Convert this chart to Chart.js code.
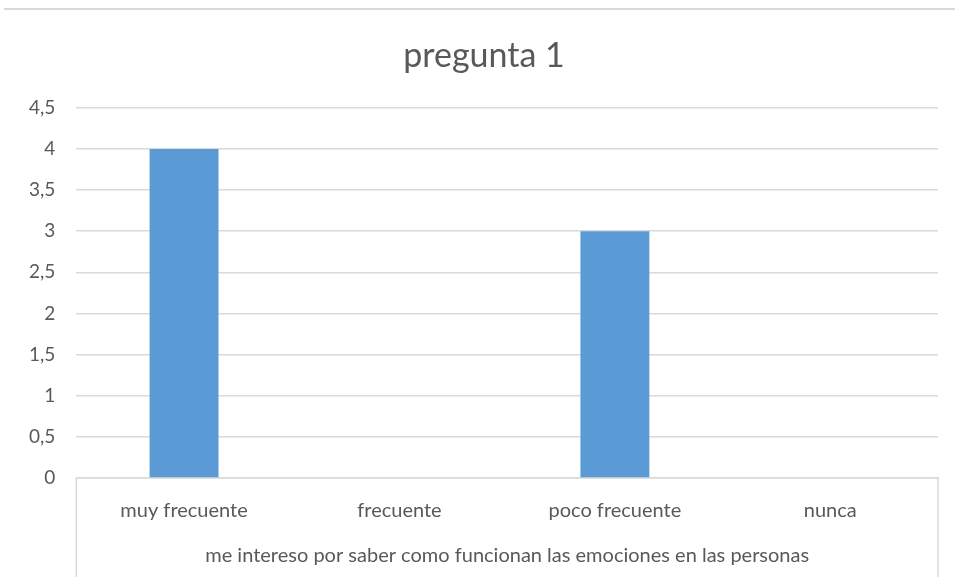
<!DOCTYPE html>
<html>
<head>
<meta charset="utf-8">
<script src="https://cdn.jsdelivr.net/npm/chart.js@4"></script>
<style>
  html, body { margin: 0; padding: 0; background: #fff; }
  #wrap { position: relative; width: 955px; height: 577px; }
  #topline { position: absolute; left: 4px; right: 0; top: 8px; height: 0; border-top: 2px solid #d9d9d9; }
  canvas { display: block; }
</style>
</head>
<body>
<div id="wrap">
  <div id="topline"></div>
  <canvas id="c" width="955" height="577"></canvas>
</div>
<script>
const categories = ['muy frecuente', 'frecuente', 'poco frecuente', 'nunca'];
const values = [4, 0, 3, 0];
const groupLabel = 'me intereso por saber como funcionan las emociones en las personas';
const chartTitle = 'pregunta 1';

const textColor = '#595959';
const gridColor = '#d9d9d9';
const fontFamily = 'Lato, "Open Sans", sans-serif';
const titleOffsetX = 11;

// Vertical edges of the category box below the axis line,
// plus a small horizontal nudge of the title
const categoryBox = {
  id: 'categoryBox',
  afterLayout(chart) {
    const t = chart.titleBlock;
    if (t) {
      t.left += titleOffsetX;
      t.right += titleOffsetX;
    }
  },
  afterDraw(chart) {
    const { ctx, chartArea } = chart;
    ctx.save();
    ctx.strokeStyle = gridColor;
    ctx.lineWidth = 1.5;
    ctx.beginPath();
    ctx.moveTo(chartArea.left, chartArea.bottom);
    ctx.lineTo(chartArea.left, chart.height);
    ctx.moveTo(chartArea.right, chartArea.bottom);
    ctx.lineTo(chartArea.right, chart.height);
    ctx.stroke();
    ctx.restore();
  }
};

new Chart(document.getElementById('c'), {
  type: 'bar',
  data: {
    labels: categories,
    datasets: [{
      data: values,
      backgroundColor: '#5b9bd5',
      categoryPercentage: 0.32,
      barPercentage: 1.0
    }]
  },
  options: {
    responsive: false,
    animation: false,
    layout: { padding: { left: 8, right: 17, top: 18, bottom: 9 } },
    plugins: {
      legend: { display: false },
      tooltip: { enabled: false },
      title: {
        display: true,
        text: chartTitle,
        color: textColor,
        font: { family: fontFamily, size: 34, weight: 'normal' },
        padding: { top: 18, bottom: 31 }
      }
    },
    scales: {
      x: {
        grid: { display: false, drawTicks: false },
        border: { display: true, color: gridColor, width: 1.5 },
        ticks: {
          color: textColor,
          font: { family: fontFamily, size: 20 },
          padding: 21,
          maxRotation: 0
        },
        title: {
          display: true,
          text: groupLabel,
          color: textColor,
          font: { family: fontFamily, size: 20 },
          padding: { top: 0, bottom: 0 }
        }
      },
      y: {
        min: 0,
        max: 4.5,
        grid: { color: gridColor, lineWidth: 1.5, drawTicks: false },
        border: { display: false },
        ticks: {
          stepSize: 0.5,
          color: textColor,
          font: { family: fontFamily, size: 19 },
          padding: 21,
          callback: v => String(v).replace('.', ',')
        }
      }
    }
  },
  plugins: [categoryBox]
});
</script>
</body>
</html>
